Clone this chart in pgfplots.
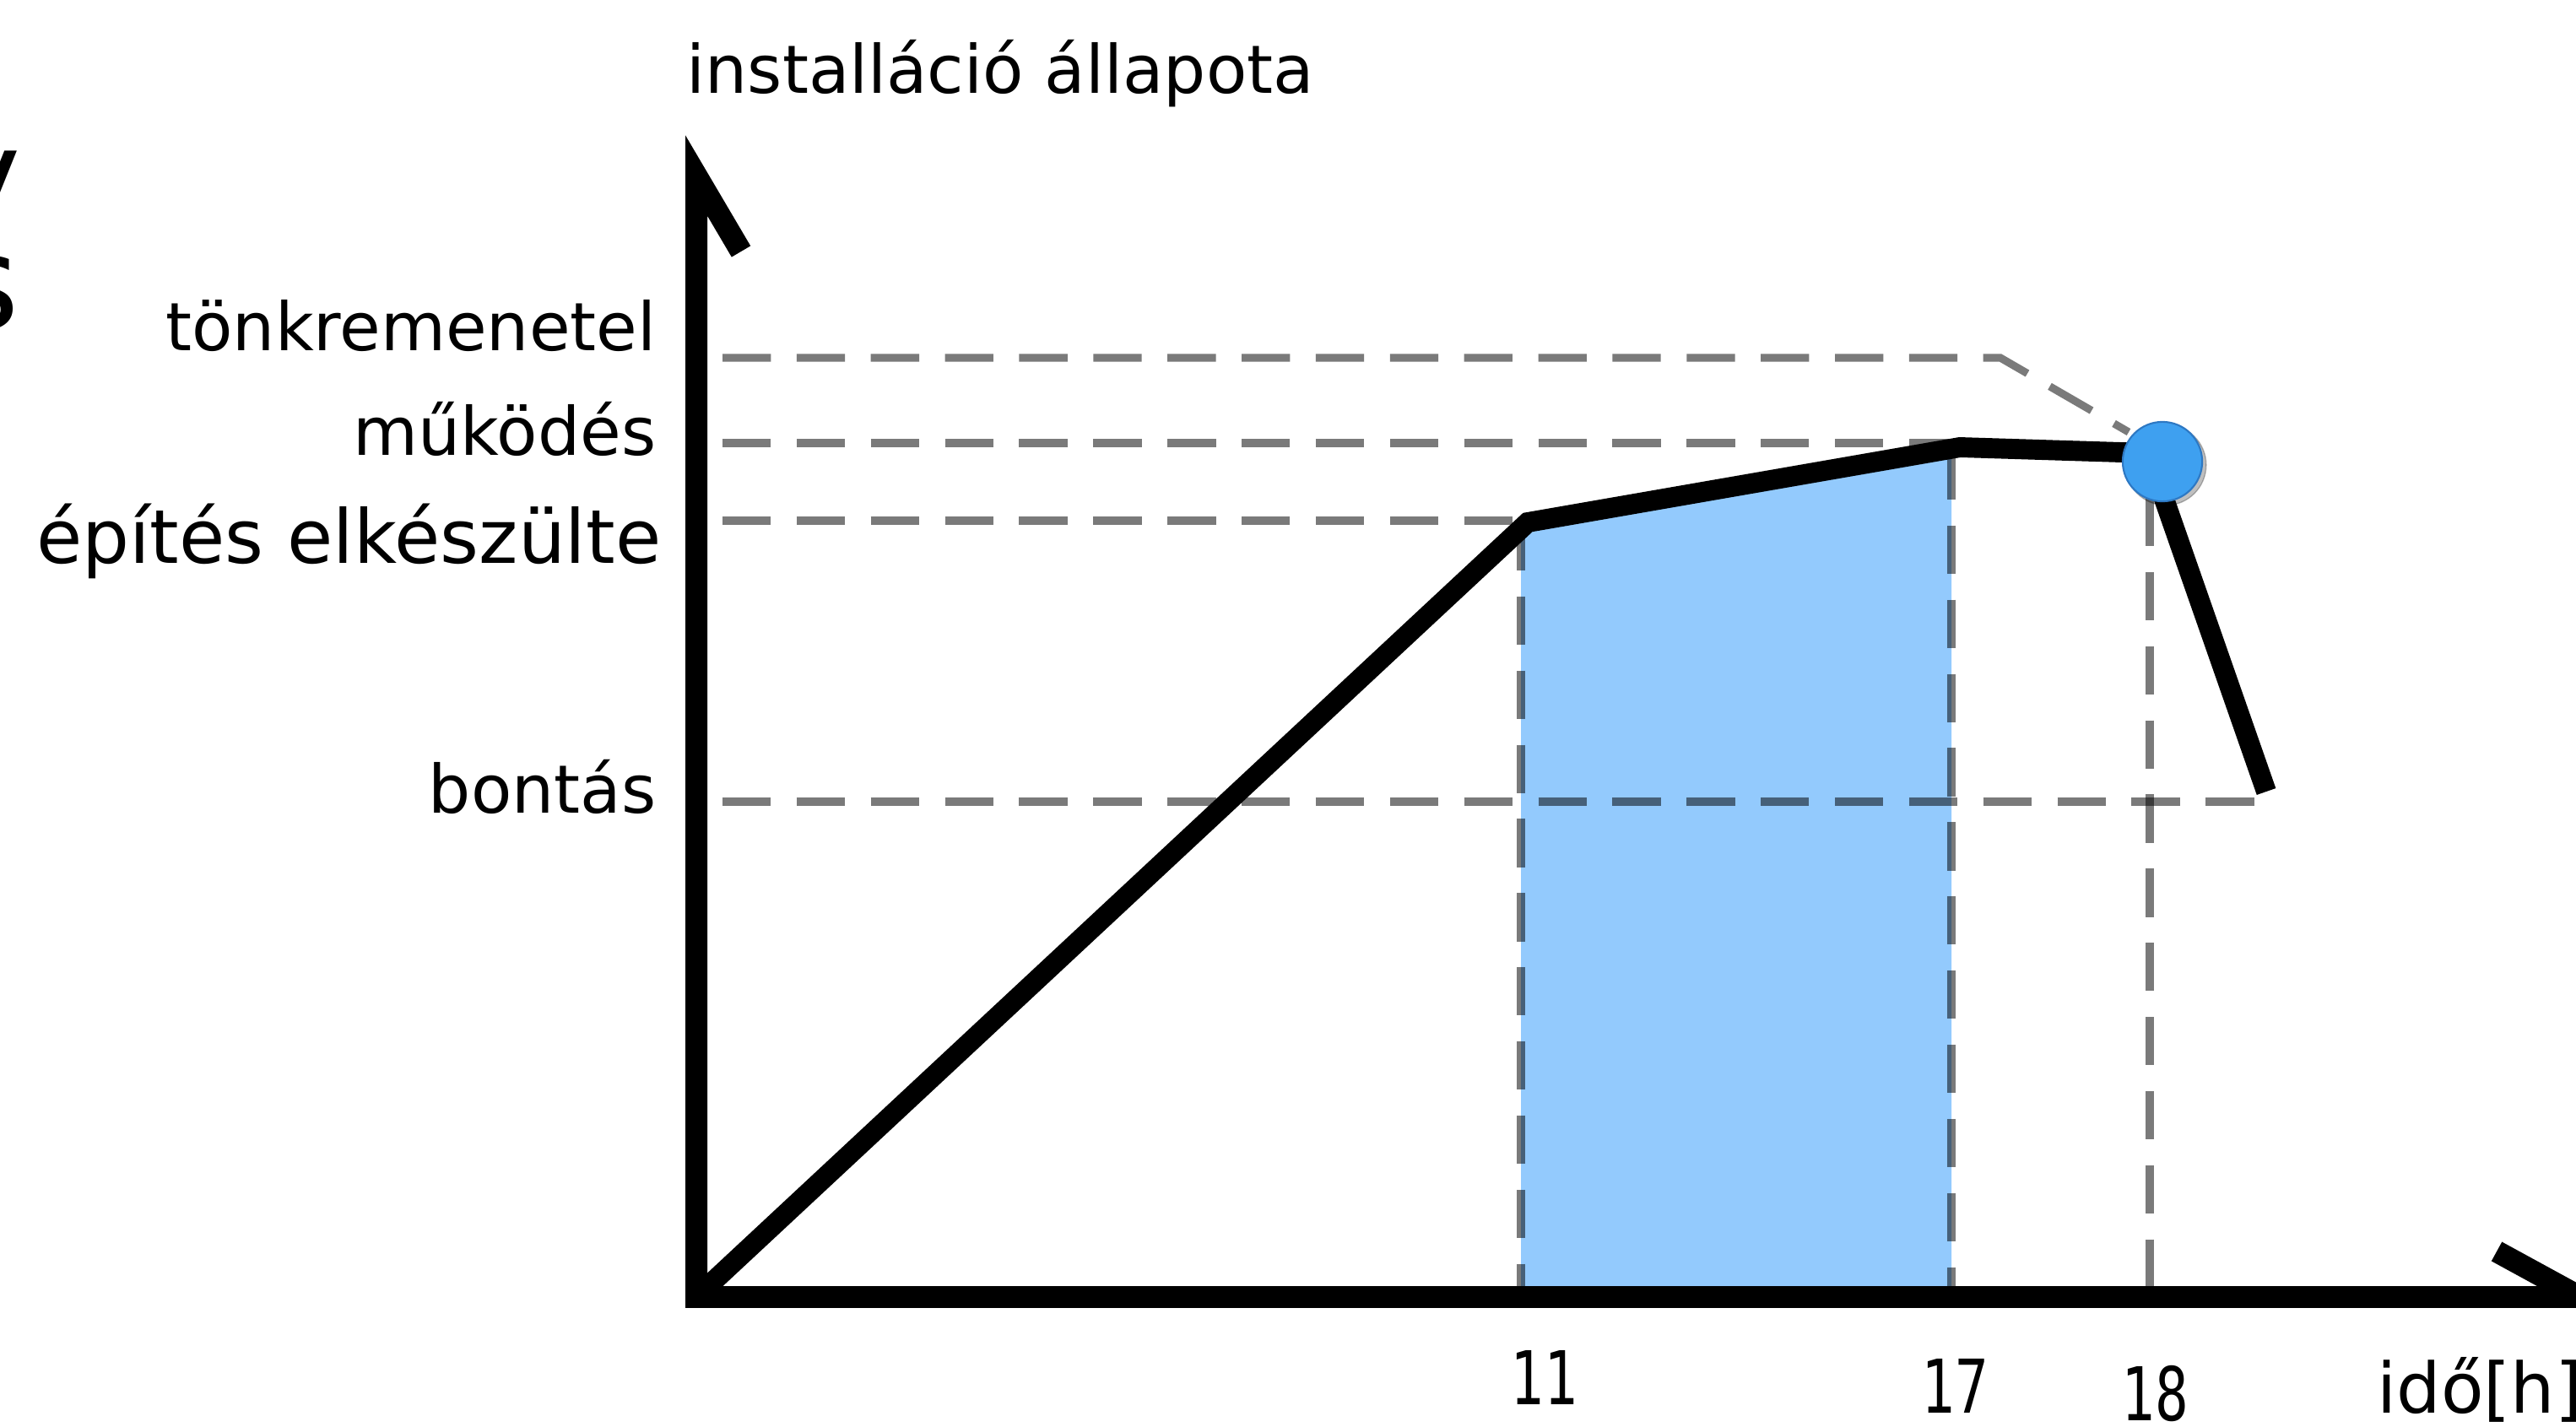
\documentclass[border=0pt]{standalone}
\usepackage{fontspec}
\setmainfont{DejaVu Sans}
\newfontfamily\monofont{DejaVu Sans Mono}
\usepackage{graphicx}
\usepackage{pgfplots}
\pgfplotsset{compat=1.18}
\definecolor{fillblue}{RGB}{147,202,253}
\definecolor{dotblue}{RGB}{62,160,240}
\definecolor{dotedge}{RGB}{45,120,195}
\begin{document}
\begin{tikzpicture}
\begin{axis}[name=ax, hide axis, scale only axis, width=30.52cm, height=16.90cm,
  xmin=0, xmax=3052, ymin=0, ymax=1690, clip=true]
% blue shaded band
\addplot[fill=fillblue, draw=none] coordinates {(1802,153) (1802,1064) (1810,1071) (2312,1158) (2312,153) (1802,153)};
% dashed guide lines
\pgfplotsset{guide/.style={black, opacity=0.52, line width=2.6pt, dash pattern=on 16.3pt off 8.7pt}}
\addplot[guide] coordinates {(856,1266) (2370,1266) (2522,1178)};
\addplot[guide] coordinates {(856,1165) (2316,1165)};
\addplot[guide] coordinates {(856,1073) (1810,1073)};
\addplot[guide] coordinates {(856,740) (2685,740)};
\addplot[guide] coordinates {(1802,1071) (1802,153)};
\addplot[guide] coordinates {(2312,1155) (2312,153)};
\addplot[guide] coordinates {(2547,1100) (2547,153)};
% axes with half arrow heads
\addplot[black, line width=7.4pt, line join=miter, miter limit=10] coordinates {(878,1392) (825,1482) (825,153)};
\addplot[black, line width=7.4pt] coordinates {(812,153) (3100,153)};
\addplot[black, line width=7.4pt] coordinates {(2958,207) (3066,148)};
% state curve
\addplot[black, line width=6.8pt, line join=miter] coordinates {(825,153) (1810,1071) (2322,1160) (2545,1153) (2685,752)};
% failure point (with soft shadow)
\addplot[only marks, mark=*, mark size=13.6pt, mark options={fill=black, draw=none, opacity=0.25}] coordinates {(2566,1139)};
\addplot[only marks, mark=*, mark size=13.4pt, mark options={fill=dotblue, draw=dotedge, line width=0.6pt}] coordinates {(2562,1143)};
% labels
\node[anchor=base west, inner sep=0pt, font=\fontsize{22.5}{27}\selectfont] at (axis cs:813,1579) {installáció állapota};
\node[anchor=base east, inner sep=0pt, font=\fontsize{22.5}{27}\selectfont] at (axis cs:778,1275) {tönkremenetel};
\node[anchor=base east, inner sep=0pt, font=\fontsize{22.5}{27}\selectfont] at (axis cs:778,1151) {működés};
\node[anchor=base east, inner sep=0pt, font=\fontsize{25.1}{30}\selectfont] at (axis cs:784,1023) {építés elkészülte};
\node[anchor=base east, inner sep=0pt, font=\fontsize{22.5}{27}\selectfont] at (axis cs:778,727) {bontás};
\node[anchor=base, font=\monofont\fontsize{25}{30}\selectfont] at (axis cs:1829,26) {\scalebox{0.75}[1]{11}};
\node[anchor=base, font=\monofont\fontsize{25}{30}\selectfont] at (axis cs:2316,16) {\scalebox{0.75}[1]{17}};
\node[anchor=base, font=\monofont\fontsize{25}{30}\selectfont] at (axis cs:2553,7) {\scalebox{0.75}[1]{18}};
\node[anchor=base west, inner sep=0pt, font=\fontsize{23.5}{28}\selectfont] at (axis cs:2816,16) {idő[h]};
% cut-off text fragments at the left edge
\node[anchor=base east, inner sep=0pt, font=\fontsize{44}{52}\selectfont] at (axis cs:26,1427) {y};
\node[anchor=base east, inner sep=0pt, font=\fontsize{44}{52}\selectfont] at (axis cs:24,1301) {s};
\end{axis}
\pgfresetboundingbox
\path[use as bounding box] (ax.south west) rectangle (ax.north east);
\end{tikzpicture}
\end{document}
